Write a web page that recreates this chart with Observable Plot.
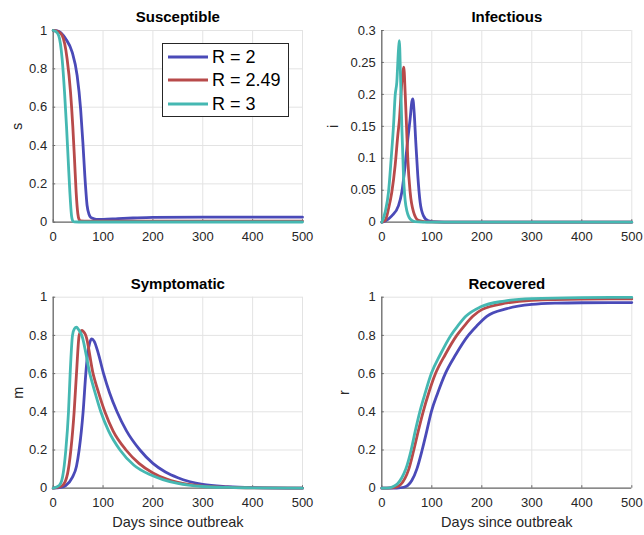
<!DOCTYPE html>
<html><head><meta charset="utf-8">
<script src="https://cdn.jsdelivr.net/npm/d3@7"></script>
<script src="https://cdn.jsdelivr.net/npm/@observablehq/plot@0.6"></script>
<style>
body{margin:0;background:#fff;}
#chart{position:relative;width:644px;height:535px;background:#fff;font-family:'Liberation Sans',Arial,Helvetica,sans-serif;}
#chart .panel{position:absolute;}
#chart .legend{position:absolute;background:#fff;border:1px solid #262626;box-sizing:border-box;}
#chart .legend .row{display:flex;align-items:center;height:23.5px;}
#chart .legend .row span{font-size:18px;color:#000;margin-left:4px;line-height:1;}
</style></head><body><div id="chart"></div><script>
// ---- series labels & colours ----
const seriesNames = ["R = 2", "R = 2.49", "R = 3"];
const seriesColors = ["#4a4ab8", "#b84a4a", "#45b8b2"];

// ---- tick values ----
const xTicks = [0, 100, 200, 300, 400, 500];
const unitTicks = [0, 0.2, 0.4, 0.6, 0.8, 1];
const infTicks = [0, 0.05, 0.1, 0.15, 0.2, 0.25, 0.3];

// ---- Susceptible (day, s) ----
const sR2 = [[0,1],[8,0.998],[25,0.957],[38,0.887],[48,0.765],[55,0.59],[59.5,0.417],[63.5,0.24],[68,0.087],[72,0.04],[75,0.026],[82,0.018],[90,0.015],[100,0.015],[130,0.019],[160,0.022],[200,0.025],[300,0.026],[400,0.026],[500,0.026]];
const sR249 = [[0,1],[10,0.995],[18,0.974],[28,0.85],[34.7,0.68],[39.3,0.5],[42.7,0.33],[46,0.157],[49.4,0.044],[52,0.014],[55,0.007],[70,0.006],[100,0.006],[200,0.006],[500,0.006]];
const sR3 = [[0,1],[5,0.995],[11,0.974],[18,0.85],[22.7,0.68],[26.7,0.5],[30,0.33],[33.4,0.157],[36.7,0.035],[39,0.008],[42,0.002],[60,0.001],[500,0.001]];

// ---- Infectious (day, i) ----
const iR2 = [[0,0],[7,0.002],[20,0.010],[33.4,0.026],[40,0.047],[46.7,0.089],[52,0.13],[56.7,0.162],[60,0.188],[62,0.193],[64.7,0.172],[68,0.125],[72,0.073],[76.7,0.031],[83.4,0.01],[93,0.002],[100,0.001],[150,0],[500,0]];
const iR249 = [[0,0],[7,0.003],[13.4,0.021],[20,0.047],[26.7,0.089],[32,0.136],[35.4,0.162],[38.7,0.203],[41,0.229],[44,0.2426],[46.7,0.203],[49.4,0.151],[52,0.099],[56.7,0.047],[63.4,0.016],[73,0.003],[90,0.0005],[150,0],[500,0]];
const iR3 = [[0,0],[6.7,0.0157],[13.4,0.047],[18.7,0.099],[23.4,0.151],[26.7,0.198],[30,0.219],[33.4,0.27],[35,0.284],[37.4,0.23],[40,0.151],[43.4,0.073],[48,0.026],[56.7,0.005],[66,0.001],[100,0],[500,0]];

// ---- Symptomatic (day, m) ----
const mR2 = [[0,0],[15,0.004],[25,0.014],[38.7,0.058],[46.7,0.115],[52,0.2],[60,0.4],[65.4,0.6],[69,0.7],[73,0.76],[77.5,0.782],[82,0.77],[90,0.71],[101,0.6],[113,0.5],[128,0.4],[147,0.3],[174,0.2],[200,0.13],[225,0.085],[250,0.055],[300,0.02],[350,0.008],[400,0.003],[500,0]];
const mR249 = [[0,0],[10,0.005],[18.7,0.014],[28.7,0.075],[35.4,0.2],[42,0.4],[46.7,0.6],[52,0.8],[55,0.82],[57.4,0.826],[60.5,0.82],[65.4,0.8],[80,0.6],[91,0.5],[103.6,0.4],[120,0.3],[146,0.2],[172,0.13],[200,0.08],[225,0.05],[250,0.03],[300,0.011],[350,0.005],[400,0.002],[500,0]];
const mR3 = [[0,0],[12,0.014],[18.7,0.058],[25.3,0.2],[30.7,0.4],[34,0.6],[38.7,0.8],[42.5,0.835],[46.7,0.843],[51,0.83],[57.4,0.8],[73.5,0.6],[84,0.5],[95.5,0.4],[111,0.3],[134,0.2],[162,0.12],[195,0.07],[220,0.045],[250,0.025],[300,0.009],[350,0.004],[400,0.002],[500,0]];

// ---- Recovered (day, r) ----
const rR2 = [[0,0],[30,0.001],[44,0.005],[52,0.015],[60,0.04],[70,0.1],[80.7,0.2],[90,0.3],[99,0.4],[112,0.5],[127,0.6],[148,0.7],[173,0.8],[190,0.85],[210,0.9],[250,0.94],[300,0.962],[350,0.969],[400,0.971],[500,0.972]];
const rR249 = [[0,0],[20,0.002],[30.7,0.008],[38,0.02],[46,0.05],[54,0.1],[64,0.2],[73,0.3],[82.7,0.4],[94,0.5],[107.4,0.6],[127,0.7],[150,0.8],[165,0.85],[182,0.9],[200,0.935],[250,0.97],[300,0.984],[400,0.99],[500,0.991]];
const rR3 = [[0,0],[15,0.002],[24,0.01],[32,0.025],[40,0.055],[48,0.1],[58.7,0.2],[67,0.3],[76,0.4],[87,0.5],[99,0.6],[117,0.7],[138,0.8],[152,0.85],[168,0.9],[198,0.95],[245,0.98],[300,0.993],[400,0.998],[500,0.999]];

const xLabel = "Days since outbreak";
const FONT = "'Liberation Sans', Arial, Helvetica, sans-serif";
const axisColor = "#6a6a6a";
const gridColor = "#e3e3e3";
const tickTextColor = "#262626";

const panels = [
  {title: "Susceptible", ylabel: "s", yTicks: unitTicks, series: [sR2, sR249, sR3], left: 0, top: 0, height: 260, ml: 52.7, mr: 20, mt: 30, mb: 38.3, ylabDx: -36, xlab: false},
  {title: "Infectious", ylabel: "i", yTicks: infTicks, series: [iR2, iR249, iR3], left: 322, top: 0, height: 260, ml: 59.3, mr: 12.7, mt: 30, mb: 38.3, ylabDx: -48, xlab: false},
  {title: "Symptomatic", ylabel: "m", yTicks: unitTicks, series: [mR2, mR249, mR3], left: 0, top: 260, height: 275, ml: 52.7, mr: 20, mt: 36.7, mb: 47.3, ylabDx: -35, xlab: true},
  {title: "Recovered", ylabel: "r", yTicks: unitTicks, series: [rR2, rR249, rR3], left: 322, top: 260, height: 275, ml: 59.3, mr: 12.7, mt: 36.7, mb: 47.3, ylabDx: -37, xlab: true}
];

const chart = document.getElementById("chart");

for (const p of panels) {
  const yMax = p.yTicks[p.yTicks.length - 1];
  const table = p.series.flatMap((pts, k) => pts.map(([d, v]) => ({day: d, value: v, series: seriesNames[k]})));
  const marks = [
    Plot.gridX(xTicks, {stroke: gridColor, strokeOpacity: 1}),
    Plot.gridY(p.yTicks, {stroke: gridColor, strokeOpacity: 1}),
    Plot.ruleX([0], {stroke: axisColor, strokeWidth: 1.3}),
    Plot.ruleY([0], {stroke: axisColor, strokeWidth: 1.3}),
    Plot.ruleY(p.yTicks, {x1: 0, x2: 5, stroke: axisColor}),
    Plot.ruleX(xTicks, {y1: 0, y2: yMax * 0.013, stroke: axisColor}),
    Plot.axisX(xTicks, {tickSize: 0, tickPadding: 10, tickFormat: d => String(d), fontSize: 13, fill: tickTextColor}),
    Plot.axisY(p.yTicks, {tickSize: 0, tickPadding: 6, tickFormat: d => String(d), fontSize: 13, fill: tickTextColor, label: null}),
    Plot.line(table, {x: "day", y: "value", z: "series", stroke: "series", strokeWidth: 2.8, curve: "monotone-x"}),
    Plot.text([p.title], {text: d => d, frameAnchor: "top", lineAnchor: "middle", dy: -13, fontWeight: "bold", fontSize: 15, fill: "#000"}),
    Plot.text([p.ylabel], {text: d => d, frameAnchor: "left", textAnchor: "middle", lineAnchor: "middle", dx: p.ylabDx, rotate: -90, fontSize: 14.5, fill: tickTextColor})
  ];
  if (p.xlab) marks.push(Plot.text([xLabel], {text: d => d, frameAnchor: "bottom", lineAnchor: "middle", dy: 34, fontSize: 14.5, fill: tickTextColor}));
  const svg = Plot.plot({
    width: 322,
    height: p.height,
    marginLeft: p.ml, marginRight: p.mr, marginTop: p.mt, marginBottom: p.mb,
    style: {fontFamily: FONT, fontSize: "13px", color: tickTextColor, background: "transparent", overflow: "visible"},
    x: {domain: [0, 500], label: null},
    y: {domain: [0, yMax], label: null},
    color: {domain: seriesNames, range: seriesColors},
    marks
  });
  const wrap = document.createElement("div");
  wrap.className = "panel";
  wrap.style.left = p.left + "px";
  wrap.style.top = p.top + "px";
  wrap.appendChild(svg);
  chart.appendChild(wrap);
}

// ---- legend (HTML overlay in the Susceptible panel) ----
const legend = document.createElement("div");
legend.className = "legend";
legend.style.left = "162px";
legend.style.top = "43px";
legend.style.width = "127px";
legend.style.height = "74px";
legend.style.padding = "1px 0 0 5px";
seriesNames.forEach((name, k) => {
  const row = document.createElement("div");
  row.className = "row";
  row.innerHTML = `<svg width="40" height="6"><line x1="0" x2="40" y1="3" y2="3" stroke="${seriesColors[k]}" stroke-width="3"/></svg><span>${name}</span>`;
  legend.appendChild(row);
});
chart.appendChild(legend);
</script></body></html>
